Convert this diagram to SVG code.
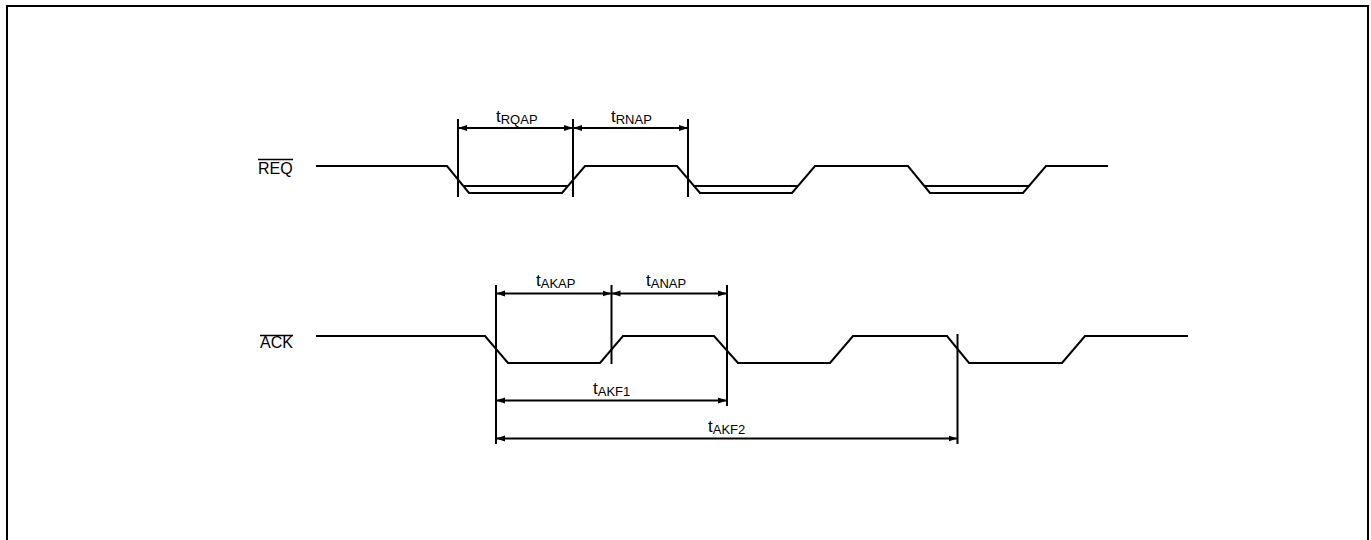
<svg xmlns="http://www.w3.org/2000/svg" width="1371" height="540" viewBox="0 0 1371 540">
<style>
.w{fill:none;stroke:#000;stroke-width:2;stroke-linejoin:miter}
.v{stroke:#000;stroke-width:2}
.d{stroke:#000;stroke-width:2;marker-start:url(#ah);marker-end:url(#ah)}
.ol{stroke:#000;stroke-width:1.3}
text{font-family:"Liberation Sans",Arial,sans-serif;fill:#000}
.sig{font-size:16px}
.t{font-size:17px}
.s{font-size:13px}
</style>
<defs>
<marker id="ah" markerUnits="userSpaceOnUse" markerWidth="9" markerHeight="7" refX="9" refY="3.5" orient="auto-start-reverse">
<path d="M0,0.5 L9,3.5 L0,6.5 z" fill="#000"/>
</marker>
</defs>
<rect x="7" y="6" width="1361" height="600" fill="#fff" stroke="#000" stroke-width="2"/>

<g id="req">
<text class="sig" x="258" y="173.5">REQ</text>
<line class="ol" x1="258" y1="159.5" x2="293" y2="159.5"/>
<path class="w" d="M316,166 H447 L469,193 H562 L585,166 H677 L700,193 H792 L815,166 H908 L930,193 H1023 L1046,166 H1108"/>
<path class="w" d="M463,186 H568 M693,186 H798 M924,186 H1029"/>
</g>

<g id="ack">
<text class="sig" x="260" y="347.5">ACK</text>
<line class="ol" x1="260" y1="335.5" x2="293" y2="335.5"/>
<path class="w" d="M316,336 H485 L508,363 H600 L623,336 H714 L738,363 H830 L853,336 H947 L969,363 H1062 L1085,336 H1188"/>
</g>

<g id="connectors">
<line class="v" x1="458" y1="119" x2="458" y2="197"/>
<line class="v" x1="573" y1="119" x2="573" y2="197"/>
<line class="v" x1="688" y1="119" x2="688" y2="197"/>
<line class="v" x1="496" y1="285" x2="496" y2="444"/>
<line class="v" x1="611.5" y1="285" x2="611.5" y2="364"/>
<line class="v" x1="727" y1="285" x2="727" y2="406"/>
<line class="v" x1="957.5" y1="334" x2="957.5" y2="444"/>
<line class="d" x1="458" y1="128" x2="573" y2="128"/>
<line class="d" x1="573" y1="128" x2="688" y2="128"/>
<line class="d" x1="496" y1="293.5" x2="611.5" y2="293.5"/>
<line class="d" x1="611.5" y1="293.5" x2="727" y2="293.5"/>
<line class="d" x1="496" y1="400.5" x2="727" y2="400.5"/>
<line class="d" x1="496" y1="438.5" x2="957.5" y2="438.5"/>
</g>

<g id="labels">
<text class="t" x="496" y="122">t<tspan class="s" dy="1.5">RQAP</tspan></text>
<text class="t" x="611" y="122">t<tspan class="s" dy="1.5">RNAP</tspan></text>
<text class="t" x="536" y="286">t<tspan class="s" dy="1.5">AKAP</tspan></text>
<text class="t" x="646" y="286">t<tspan class="s" dy="1.5">ANAP</tspan></text>
<text class="t" x="593" y="394">t<tspan class="s" dy="1.5">AKF1</tspan></text>
<text class="t" x="708" y="432">t<tspan class="s" dy="1.5">AKF2</tspan></text>
</g>
</svg>
